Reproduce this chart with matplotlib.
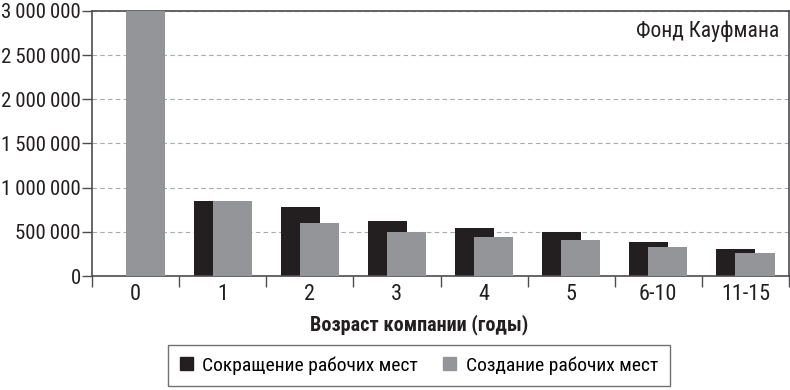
import numpy as np
import matplotlib.pyplot as plt
from matplotlib.patches import Patch
from matplotlib.ticker import FuncFormatter

# Данные
categories = ['0', '1', '2', '3', '4', '5', '6-10', '11-15']
job_loss = [0, 850000, 778000, 623000, 540000, 498000, 385000, 302000]
job_creation = [3000000, 845000, 604000, 502000, 445000, 411000, 325000, 264000]
y_ticks = [0, 500000, 1000000, 1500000, 2000000, 2500000, 3000000]

black = '#231f20'
grey = '#939598'
spine_col = '#4d4d4f'

plt.rcParams['font.family'] = ['Roboto Condensed', 'Fira Sans Condensed', 'DejaVu Sans']

fig = plt.figure(figsize=(7.9, 3.9), dpi=100)
ax = fig.add_axes([92 / 790, 1 - 276 / 390, 697 / 790, 265 / 390])

x = np.arange(len(categories))
w = 0.45
ax.bar(x - 0.11, job_loss, width=w, color=black, zorder=2)
ax.bar(x + 0.11, job_creation, width=w, color=grey, zorder=3)

ax.set_xlim(-0.5, len(categories) - 0.5)
ax.set_ylim(0, 3000000)
ax.set_yticks(y_ticks)
ax.yaxis.set_major_formatter(FuncFormatter(lambda v, p: f'{int(v):,}'.replace(',', '\u2009')))
ax.yaxis.grid(True, linestyle=(0, (4, 3)), color='#a7a9ac', linewidth=0.8, zorder=0)

ax.set_xticks(x)
ax.set_xticklabels(categories)
ax.set_xticks(np.arange(-0.5, len(categories)), minor=True)
ax.tick_params(axis='x', which='major', length=0, labelsize=16, pad=6, colors='#231f20')
ax.tick_params(axis='x', which='minor', length=8, width=1, color=spine_col, direction='out')
ax.tick_params(axis='y', length=7, width=1, labelsize=15, pad=1, labelcolor='#231f20',
               color=spine_col)

for s in ax.spines.values():
    s.set_color(spine_col)
    s.set_linewidth(1.2)

ax.text(0.986, 0.925, 'Фонд Кауфмана', transform=ax.transAxes, ha='right', va='center',
        fontsize=15.5, color='#231f20')

fig.text(419 / 790, 1 - 325 / 390, 'Возраст компании (годы)', ha='center', va='center',
         fontsize=14.5, fontweight='bold', color='#231f20')

handles = [Patch(color=black), Patch(color=grey)]
fig.legend(handles, ['Сокращение рабочих мест', 'Создание рабочих мест'],
           loc='center', bbox_to_anchor=(419 / 790, 1 - 365.5 / 390), ncol=2, frameon=True,
           fancybox=False, edgecolor=spine_col, fontsize=14, handlelength=0.65,
           handleheight=0.65, handletextpad=0.5, columnspacing=1.3, borderpad=0.6,
           borderaxespad=0)

fig.savefig('out.png', dpi=100)
